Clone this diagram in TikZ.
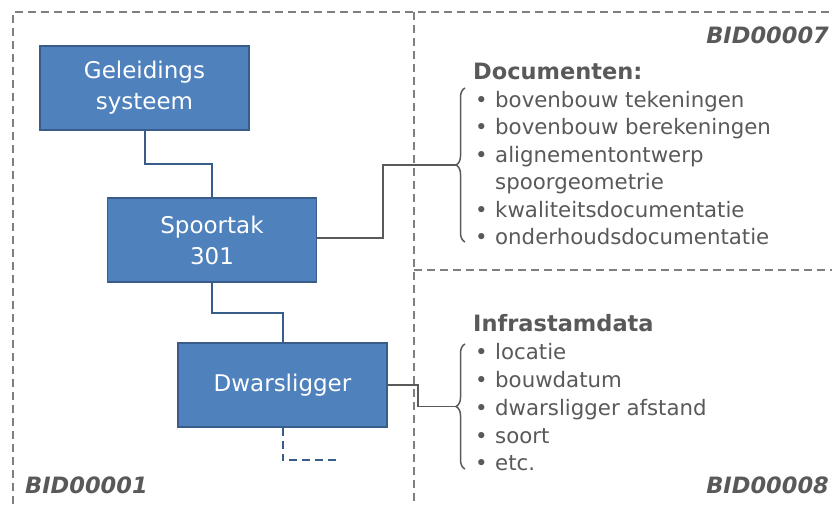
\documentclass[tikz,border=0pt]{standalone}
\usepackage{fontspec}
\setmainfont{DejaVu Sans}
\usetikzlibrary{decorations.pathreplacing}
\definecolor{boxfill}{HTML}{4F81BD}
\definecolor{boxline}{HTML}{385D8A}
\definecolor{txtgray}{HTML}{595959}
\definecolor{dashgray}{HTML}{7F7F7F}
\definecolor{linegray}{HTML}{5A5A5A}
\tikzset{
  ent/.style={draw=boxline, line width=1.5pt, fill=boxfill, minimum width=209pt, minimum height=84pt, inner sep=0pt, text=white, font=\fontsize{23}{31}\selectfont, align=center},
  frame/.style={draw=dashgray, line width=1.8pt, dash pattern=on 8pt off 5pt},
  conn/.style={draw=boxline, line width=2pt},
  link/.style={draw=linegray, line width=1.8pt},
  brc/.style={draw=linegray, line width=1.5pt, decorate, decoration={brace, amplitude=9pt}},
  head/.style={text=txtgray, font=\bfseries\fontsize{22.5}{27}\selectfont, anchor=base west, inner sep=0pt},
  item/.style={text=txtgray, font=\fontsize{21.3}{26}\selectfont, anchor=base west, inner sep=0pt},
  bid/.style={text=txtgray, font=\bfseries\itshape\fontsize{22.5}{27}\selectfont, inner sep=0pt}
}
\newcommand{\bul}{\makebox[20pt][l]{•}}
\begin{document}
\begin{tikzpicture}[x=1pt,y=-1pt]
\useasboundingbox (0,0) rectangle (832,504);
% frames
\draw[frame] (13,504) -- (13,12) -- (832,12);
\draw[frame] (414,12) -- (414,504);
\draw[frame] (414,270) -- (832,270);
% boxes
\node[ent] (g) at (144.5,88) {Geleidings\\systeem};
\node[ent] (s) at (212,240) {Spoortak\\301};
\node[ent] (d) at (282.5,385) {Dwarsligger};
% tree connectors
\draw[conn] (g.south) |- (212,164) -- (s.north);
\draw[conn] (s.south) |- (282.5,313) -- (d.north);
\coordinate (dend) at (336,460);
\draw[conn, dash pattern=on 8pt off 5pt] (d.south) |- (dend);
% braces
\draw[brc] (465,242) -- (465,88);
\draw[brc] (465,469) -- (465,344);
\coordinate (b1) at (456,165);
\coordinate (b2) at (456,406.5);
\draw[link] (s.east |- 0,238) -- (383,238) |- (b1);
\draw[link] (d.east) -- (418,385) |- (b2);
% texts
\node[head] (h1) at (473,79) {Documenten:};
\node[item] (i1) at (475,107) {\bul bovenbouw tekeningen};
\node[item] (i2) at (475,134.5) {\bul bovenbouw berekeningen};
\node[item] (i3) at (475,162) {\bul alignementontwerp};
\node[item] (i3b) at (495,189.5) {spoorgeometrie};
\node[item] (i4) at (475,217) {\bul kwaliteitsdocumentatie};
\node[item] (i5) at (475,244.5) {\bul onderhoudsdocumentatie};
\node[head] (h2) at (473,331) {Infrastamdata};
\node[item] (j1) at (475,359) {\bul locatie};
\node[item] (j2) at (475,387) {\bul bouwdatum};
\node[item] (j3) at (475,415) {\bul dwarsligger afstand};
\node[item] (j4) at (475,443) {\bul soort};
\node[item] (j5) at (475,470) {\bul etc.};
\node[bid, anchor=base east] (bid7) at (829,43) {BID00007};
\node[bid, anchor=base west] (bid1) at (25,493) {BID00001};
\node[bid, anchor=base east] (bid8) at (829,493) {BID00008};
\end{tikzpicture}
\end{document}
